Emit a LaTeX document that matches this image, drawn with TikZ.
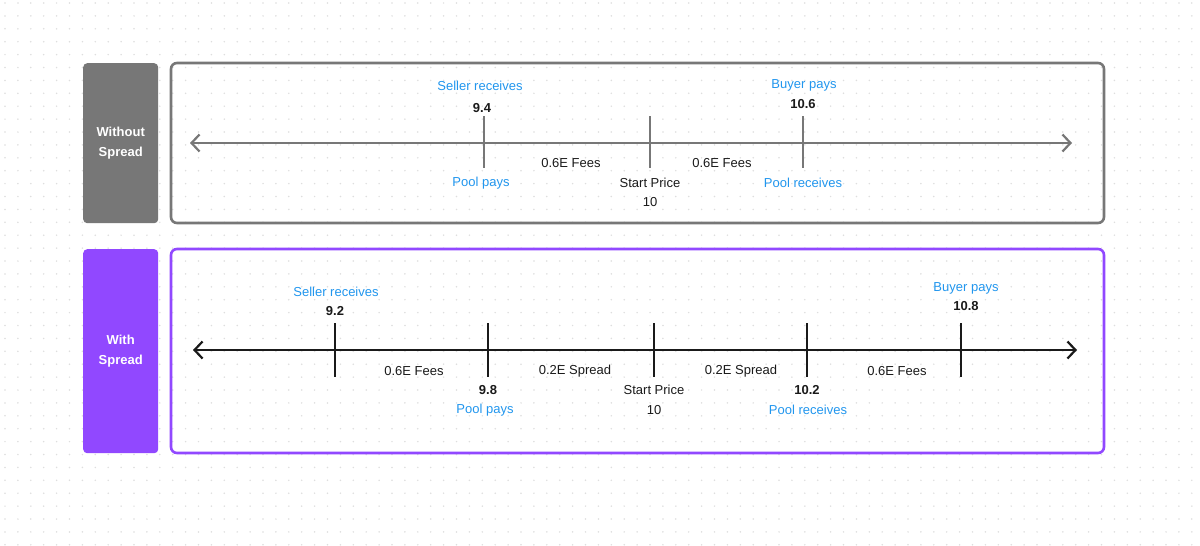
\documentclass[tikz,border=0pt]{standalone}
\usepackage{fontspec}
\setmainfont{Liberation Sans}
\usetikzlibrary{arrows.meta}
\definecolor{tgray}{HTML}{777777}
\definecolor{tpurple}{HTML}{9148FF}
\definecolor{tblue}{HTML}{2196EE}
\definecolor{tdark}{HTML}{1A1A1A}
\definecolor{tdot}{HTML}{DEDEDE}
\tikzset{
  sidebox/.style={draw=none, rounded corners=4pt, minimum width=75pt, anchor=north west, text=white, font=\bfseries\fontsize{13}{20}\selectfont, align=center, inner sep=0pt},
  frame/.style={line width=2.6pt, rounded corners=6pt},
  axis/.style={line width=2.2pt, {Straight Barb[length=8pt,width=17pt,line width=2.2pt]}-{Straight Barb[length=8pt,width=17pt,line width=2.2pt]}},
  tick/.style={line width=2.2pt},
  lblue/.style={text=tblue, font=\fontsize{13}{14}\selectfont, inner sep=0pt},
  lnum/.style={text=tdark, font=\bfseries\fontsize{13}{14}\selectfont, inner sep=0pt},
  lplain/.style={text=tdark, font=\fontsize{13}{14}\selectfont, inner sep=0pt},
}
\begin{document}
\begin{tikzpicture}[x=1pt,y=-1pt]
\useasboundingbox[fill=white] (0,0) rectangle (1200,546);
% dot grid
\foreach \i in {0,...,92} {
  \foreach \j in {0,...,42} {
    \fill[tdot] (5+\i*12.9, 3+\j*12.9) circle (0.85pt);
  }
}
% ---------- top panel ----------
\node[sidebox, fill=tgray, minimum height=160pt] (lab1) at (83,63) {Without\\Spread};
\draw[frame, draw=tgray] (171,63) rectangle (1104,223);
\coordinate (a1l) at (190,143);
\coordinate (a1r) at (1072,143);
\draw[axis, draw=tgray] (a1l) -- (a1r);
\foreach \n/\x in {t1/484, t2/650, t3/803} {
  \coordinate (\n top) at (\x,116);
  \coordinate (\n bot) at (\x,168);
  \draw[tick, draw=tgray] (\n top) -- (\n bot);
}
\node[lblue] (sr1) at (480,86) {Seller receives};
\node[lnum] (n94) at (482,108) {9.4};
\node[lblue] (pp1) at (481,183) {Pool pays};
\node[lplain] (f1a) at (571,163) {0.6E Fees};
\node[lplain] (sp1) at (650,183) {Start Price};
\node[lplain] (ten1) at (650,202) {10};
\node[lplain] (f1b) at (722,163) {0.6E Fees};
\node[lblue] (bp1) at (804,85) {Buyer pays};
\node[lnum] (n106) at (803,104) {10.6};
\node[lblue] (pr1) at (803,183) {Pool receives};
% ---------- bottom panel ----------
\node[sidebox, fill=tpurple, minimum height=204pt] (lab2) at (83,249) {With\\Spread};
\draw[frame, draw=tpurple] (171,249) rectangle (1104,453);
\coordinate (a2l) at (193,350);
\coordinate (a2r) at (1077,350);
\draw[axis, draw=tdark] (a2l) -- (a2r);
\foreach \n/\x in {u1/335, u2/488, u3/654, u4/807, u5/961} {
  \coordinate (\n top) at (\x,323);
  \coordinate (\n bot) at (\x,377);
  \draw[tick, draw=tdark] (\n top) -- (\n bot);
}
\node[lblue] (sr2) at (336,292) {Seller receives};
\node[lnum] (n92) at (335,311) {9.2};
\node[lplain] (f2a) at (414,371) {0.6E Fees};
\node[lnum] (n98) at (488,390) {9.8};
\node[lblue] (pp2) at (485,410) {Pool pays};
\node[lplain] (s2a) at (575,371) {0.2E Spread};
\node[lplain] (sp2) at (654,390) {Start Price};
\node[lplain] (ten2) at (654,410) {10};
\node[lplain] (s2b) at (741,371) {0.2E Spread};
\node[lnum] (n102) at (807,390) {10.2};
\node[lblue] (pr2) at (808,410) {Pool receives};
\node[lplain] (f2b) at (897,371) {0.6E Fees};
\node[lblue] (bp2) at (966,288) {Buyer pays};
\node[lnum] (n108) at (966,306) {10.8};
\end{tikzpicture}
\end{document}
